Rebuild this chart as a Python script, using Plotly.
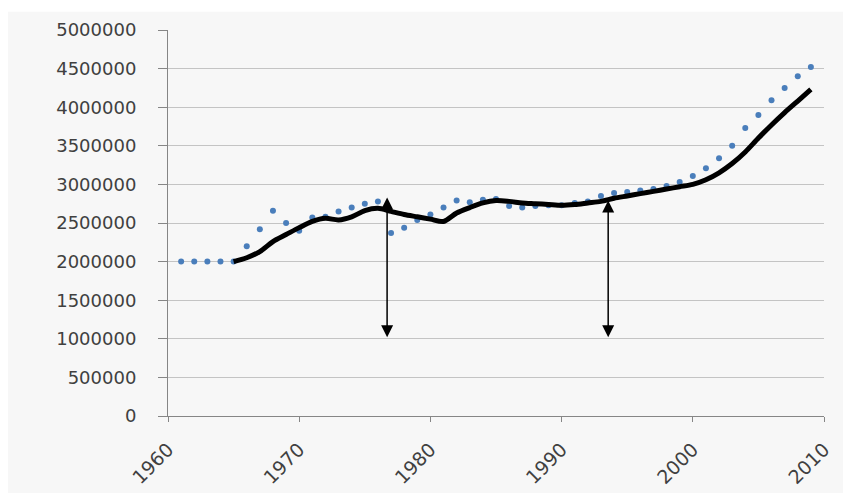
import plotly.graph_objects as go

# ---- data ----
dot_years = list(range(1961, 2010))
dot_values = [2000000, 2000000, 2000000, 2000000, 2000000,
              2200000, 2420000, 2660000, 2500000, 2400000,
              2570000, 2580000, 2650000, 2700000, 2750000,
              2780000, 2370000, 2440000, 2540000, 2610000,
              2700000, 2790000, 2770000, 2800000, 2810000,
              2720000, 2700000, 2720000, 2730000, 2730000,
              2760000, 2780000, 2850000, 2890000, 2900000,
              2920000, 2940000, 2980000, 3030000, 3110000,
              3210000, 3340000, 3500000, 3730000, 3900000,
              4090000, 4250000, 4400000, 4520000]

trend_years = list(range(1965, 2010))
trend_values = [2000000, 2050000, 2130000, 2260000, 2350000,
                2440000, 2520000, 2560000, 2540000, 2580000,
                2660000, 2690000, 2650000, 2610000, 2580000,
                2550000, 2520000, 2630000, 2700000, 2760000,
                2790000, 2780000, 2760000, 2750000, 2740000,
                2730000, 2740000, 2760000, 2780000, 2820000,
                2850000, 2880000, 2910000, 2940000, 2970000,
                3000000, 3060000, 3150000, 3270000, 3420000,
                3600000, 3770000, 3930000, 4080000, 4230000]

arrow_x = [1976.7, 1993.55]
arrow_top = [2830000, 2790000]
arrow_bottom = [1000000, 1000000]

y_ticks = [0, 500000, 1000000, 1500000, 2000000, 2500000,
           3000000, 3500000, 4000000, 4500000, 5000000]
x_ticks = [1960, 1970, 1980, 1990, 2000, 2010]

BG = "#f7f7f7"
TEXT = "#404040"

fig = go.Figure()

fig.add_trace(go.Scatter(
    x=dot_years, y=dot_values, mode="markers",
    marker=dict(color="#4a7ebb", size=6, line=dict(width=0)),
    showlegend=False, hoverinfo="skip"))

fig.add_trace(go.Scatter(
    x=trend_years, y=trend_values, mode="lines",
    line=dict(color="black", width=5, shape="spline", smoothing=0.8),
    showlegend=False, hoverinfo="skip"))

for xa, yt, yb in zip(arrow_x, arrow_top, arrow_bottom):
    fig.add_annotation(
        x=xa, y=yt, ax=xa, ay=yb,
        xref="x", yref="y", axref="x", ayref="y",
        text="", showarrow=True,
        arrowhead=2, arrowside="end+start", arrowsize=1.6,
        arrowwidth=1.5, arrowcolor="black", standoff=0, startstandoff=0)

# chart-area background panel (white strip at the very top, like the reference)
fig.add_shape(type="rect", xref="paper", yref="paper",
              x0=-0.3, x1=1.1, y0=-0.3, y1=1.047,
              fillcolor=BG, line=dict(width=0), layer="below")

# page body has an 8px margin, so the figure is sized to fit the 851x493 window
fig.update_layout(
    width=843, height=485,
    margin=dict(l=160, r=27, t=22, b=77, autoexpand=False),
    paper_bgcolor="white", plot_bgcolor=BG,
    font=dict(family="DejaVu Sans", size=17, color=TEXT),
    xaxis=dict(range=[1960, 2010], tickvals=x_ticks, tickangle=-45,
               showgrid=False, zeroline=False, automargin=False,
               showline=True, linecolor="#868686", linewidth=1,
               ticks="outside", ticklen=5, tickcolor="#868686",
               ticklabelstandoff=9,
               tickfont=dict(size=19, color=TEXT)),
    yaxis=dict(range=[0, 5000000], tickvals=y_ticks, tickformat="d",
               showgrid=True, gridcolor="#c4c4c4", gridwidth=1,
               zeroline=False, automargin=False,
               showline=True, linecolor="#868686", linewidth=1,
               ticks="outside", ticklen=9, tickcolor="#868686",
               ticklabelstandoff=18,
               tickfont=dict(size=18, color=TEXT)),
)

fig.write_html("out.html")
